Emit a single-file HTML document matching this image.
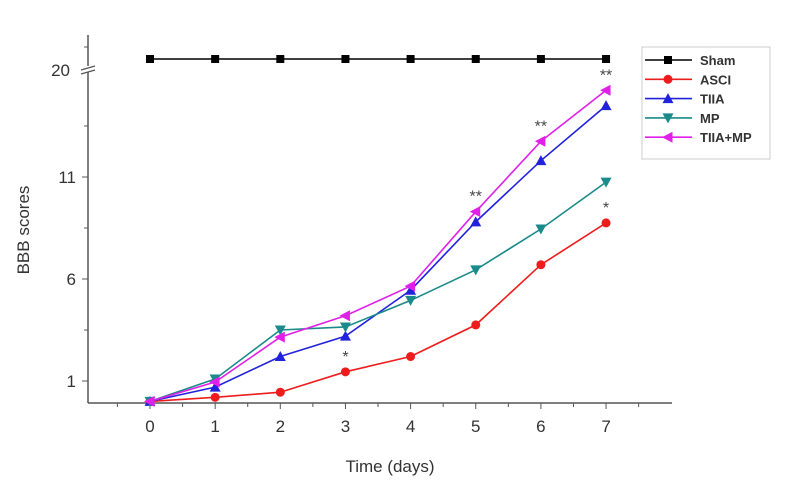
<!DOCTYPE html>
<html><head><meta charset="utf-8"><style>
html,body{margin:0;padding:0;background:#fff;}
svg{display:block;font-family:"Liberation Sans",sans-serif;}
</style></head><body>
<svg id="chart" width="800" height="483" viewBox="0 0 800 483">
<g id="axes"></g>
<g id="series"></g>
<g id="legend"></g>
</svg>
<script>
const days = [0,1,2,3,4,5,6,7];
const sham = [21,21,21,21,21,21,21,21];
const asci = [0,0.2,0.45,1.45,2.2,3.75,6.7,8.75];
const tiia = [0,0.7,2.2,3.2,5.45,8.8,11.8,14.5];
const mp = [0,1.1,3.5,3.65,4.95,6.45,8.45,10.75];
const tiiamp = [0,0.95,3.15,4.2,5.65,9.3,12.75,15.25];
const yTicks = [1,6,11];
const marks = [{x:3,v:1.45,t:'*'},{x:5,v:9.3,t:'**'},{x:6,v:12.75,t:'**'},{x:7,v:15.25,t:'**'},{x:7,v:8.75,t:'*'}];

const NS='http://www.w3.org/2000/svg';
function el(p,tag,attrs,txt){const e=document.createElementNS(NS,tag);for(const k in attrs)e.setAttribute(k,attrs[k]);if(txt!==undefined)e.textContent=txt;p.appendChild(e);return e;}
const xS=d=>150+d*65.15;
const yS=v=>401.4-v*20.4;
const yTop=v=>70-(v-20)*11;
const ax=document.getElementById('axes');
el(ax,'line',{x1:88,y1:35,x2:88,y2:403,stroke:'#555','stroke-width':1.5});
el(ax,'line',{x1:88,y1:403,x2:672,y2:403,stroke:'#555','stroke-width':1.5});
el(ax,'rect',{x:84,y:66,width:8,height:6,fill:'#fff'});
el(ax,'line',{x1:81,y1:70,x2:95,y2:66,stroke:'#555','stroke-width':1.2});
el(ax,'line',{x1:81,y1:74,x2:95,y2:70,stroke:'#555','stroke-width':1.2});
el(ax,'line',{x1:88,y1:47,x2:84,y2:47,stroke:'#555','stroke-width':1});
let t=el(ax,'text',{x:70,y:76,'font-size':17,'text-anchor':'end',fill:'#333'},'20');

for(const v of yTicks){
 el(ax,'line',{x1:88,y1:yS(v),x2:82,y2:yS(v),stroke:'#555','stroke-width':1});
 const tx=el(ax,'text',{x:76,y:yS(v)+6,'font-size':17,'text-anchor':'end',fill:'#333'},String(v));
 
 
}
for(let v=3.5;v<20;v+=2.5){ if(yS(v)>80) el(ax,'line',{x1:88,y1:yS(v),x2:84,y2:yS(v),stroke:'#555','stroke-width':1}); }
for(const d of days){
 el(ax,'line',{x1:xS(d),y1:403,x2:xS(d),y2:409,stroke:'#555','stroke-width':1});
 const tx=el(ax,'text',{x:xS(d),y:432,'font-size':17,'text-anchor':'middle',fill:'#333'},String(d));
 
 
}
for(let d=-0.5;d<8;d+=1){ el(ax,'line',{x1:xS(d),y1:403,x2:xS(d),y2:407,stroke:'#555','stroke-width':1}); }
let xt=el(ax,'text',{x:390,y:472,'font-size':17,'text-anchor':'middle',fill:'#333'},'Time (days)');

let yt=el(ax,'text',{x:0,y:0,'font-size':17,'text-anchor':'middle',fill:'#333',transform:'translate(29,230) rotate(-90)'},'BBB scores');


function marker(g,type,x,y,c){
 if(type==='sq') return el(g,'rect',{x:x-4,y:y-4,width:8,height:8,fill:c});
 if(type==='ci') return el(g,'circle',{cx:x,cy:y,r:4.5,fill:c});
 if(type==='up') return el(g,'polygon',{points:`${x},${y-5.5} ${x-5.5},${y+4.5} ${x+5.5},${y+4.5}`,fill:c});
 if(type==='dn') return el(g,'polygon',{points:`${x},${y+5.5} ${x-5.5},${y-4.5} ${x+5.5},${y-4.5}`,fill:c});
 if(type==='lt') return el(g,'polygon',{points:`${x-6},${y} ${x+4.5},${y-5.5} ${x+4.5},${y+5.5}`,fill:c});
}
const seriesDefs=[
 {name:'Sham',data:sham,color:'#000',m:'sq',top:true},
 {name:'ASCI',data:asci,color:'#ee1c1c',m:'ci'},
 {name:'TIIA',data:tiia,color:'#2222dd',m:'up'},
 {name:'MP',data:mp,color:'#1a8a8a',m:'dn'},
 {name:'TIIA+MP',data:tiiamp,color:'#e020e8',m:'lt'}
];
const sg=document.getElementById('series');
for(const s of seriesDefs){
 const g=el(sg,'g',{});
 
 
 const yf=s.top?yTop:yS;
 const pts=days.map((d,i)=>xS(d)+','+yf(s.data[i])).join(' ');
 el(g,'polyline',{points:pts,fill:'none',stroke:s.color,'stroke-width':1.6});
 days.forEach((d,i)=>{
  const m=marker(g,s.m,xS(d),yf(s.data[i]),s.color);
  
  
 });
}
for(const mk of marks){
 const tx=el(sg,'text',{x:xS(mk.x),y:yS(mk.v)-10,'font-size':16,'text-anchor':'middle',fill:'#444'},mk.t);
 
 
}
const lg=document.getElementById('legend');
el(lg,'rect',{x:642,y:47,width:128,height:112,fill:'#fff',stroke:'#ccc','stroke-width':1});
seriesDefs.forEach((s,i)=>{
 const y=60+i*19.3;
 const g=el(lg,'g',{});
 
 
 el(g,'line',{x1:645,y1:y,x2:692,y2:y,stroke:s.color,'stroke-width':1.6});
 marker(g,s.m,668,y,s.color);
 el(g,'text',{x:700,y:y+5,'font-size':13,'font-weight':'bold',fill:'#333'},s.name);
});
</script>
</body></html>
